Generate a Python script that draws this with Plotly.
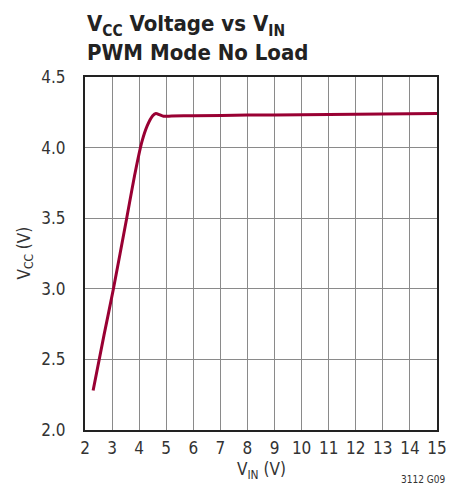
import plotly.graph_objects as go

# V_CC vs V_IN, PWM mode, no load
vin = [2.3, 2.7, 3.05, 3.54, 3.85, 4.1, 4.3, 4.5, 4.62, 4.75, 4.9,
       5.2, 6, 8, 10, 12, 14, 15]
vcc = [2.28, 2.67, 3.0, 3.5, 3.82, 4.04, 4.155, 4.225, 4.242, 4.233, 4.222,
       4.224, 4.226, 4.230, 4.233, 4.236, 4.239, 4.241]

x_ticks = list(range(2, 16))
y_ticks = [2.0, 2.5, 3.0, 3.5, 4.0, 4.5]

font = 'DejaVu Sans Condensed, Liberation Sans, sans-serif'

def fnt(size, color='#333333'):
    return dict(family=font, size=size, color=color)

fig = go.Figure()
fig.add_trace(go.Scatter(
    x=vin, y=vcc,
    mode='lines',
    line=dict(color='#990033', width=3, shape='spline', smoothing=0.7),
    showlegend=False,
))

axis_common = dict(
    showgrid=True, gridcolor='#8a8a8a', gridwidth=1,
    showline=True, linecolor='#222222', linewidth=2, mirror=True,
    ticks='', zeroline=False,
    tickfont=fnt(17),
)
fig.update_xaxes(range=[2, 15], tickvals=x_ticks, ticktext=[str(v) for v in x_ticks],
                 ticklabelstandoff=2, **axis_common)
fig.update_yaxes(range=[2.0, 4.5], tickvals=y_ticks, ticktext=[f'{v:.1f}' for v in y_ticks],
                 ticklabelstandoff=14, **axis_common)

# page body has an 8px margin, so the figure is made 8px smaller and margins shifted
fig.update_layout(
    width=457, height=480,
    margin=dict(l=77, r=28, t=69, b=58),
    paper_bgcolor='white', plot_bgcolor='white',
    font=fnt(16),
    annotations=[
        dict(text='<b>V<sub>CC</sub> Voltage vs V<sub>IN</sub><br>PWM Mode No Load</b>',
             xref='paper', yref='paper', x=0, y=1, yshift=10, xanchor='left', yanchor='bottom',
             align='left', showarrow=False, font=fnt(22, '#222222')),
        dict(text='V<sub>IN</sub> (V)', xref='paper', yref='paper', x=0.5, y=0, yshift=-27,
             xanchor='center', yanchor='top', showarrow=False, font=fnt(17)),
        dict(text='V<sub>CC</sub> (V)', xref='paper', yref='paper', x=0, xshift=-60, y=0.5,
             xanchor='center', yanchor='middle', textangle=-90, showarrow=False,
             font=fnt(17)),
        dict(text='3112 G09', xref='paper', yref='paper', x=1, xshift=10, y=0, yshift=-42,
             xanchor='right', yanchor='top', showarrow=False, font=fnt(10)),
    ],
)

fig.write_html("out.html")
